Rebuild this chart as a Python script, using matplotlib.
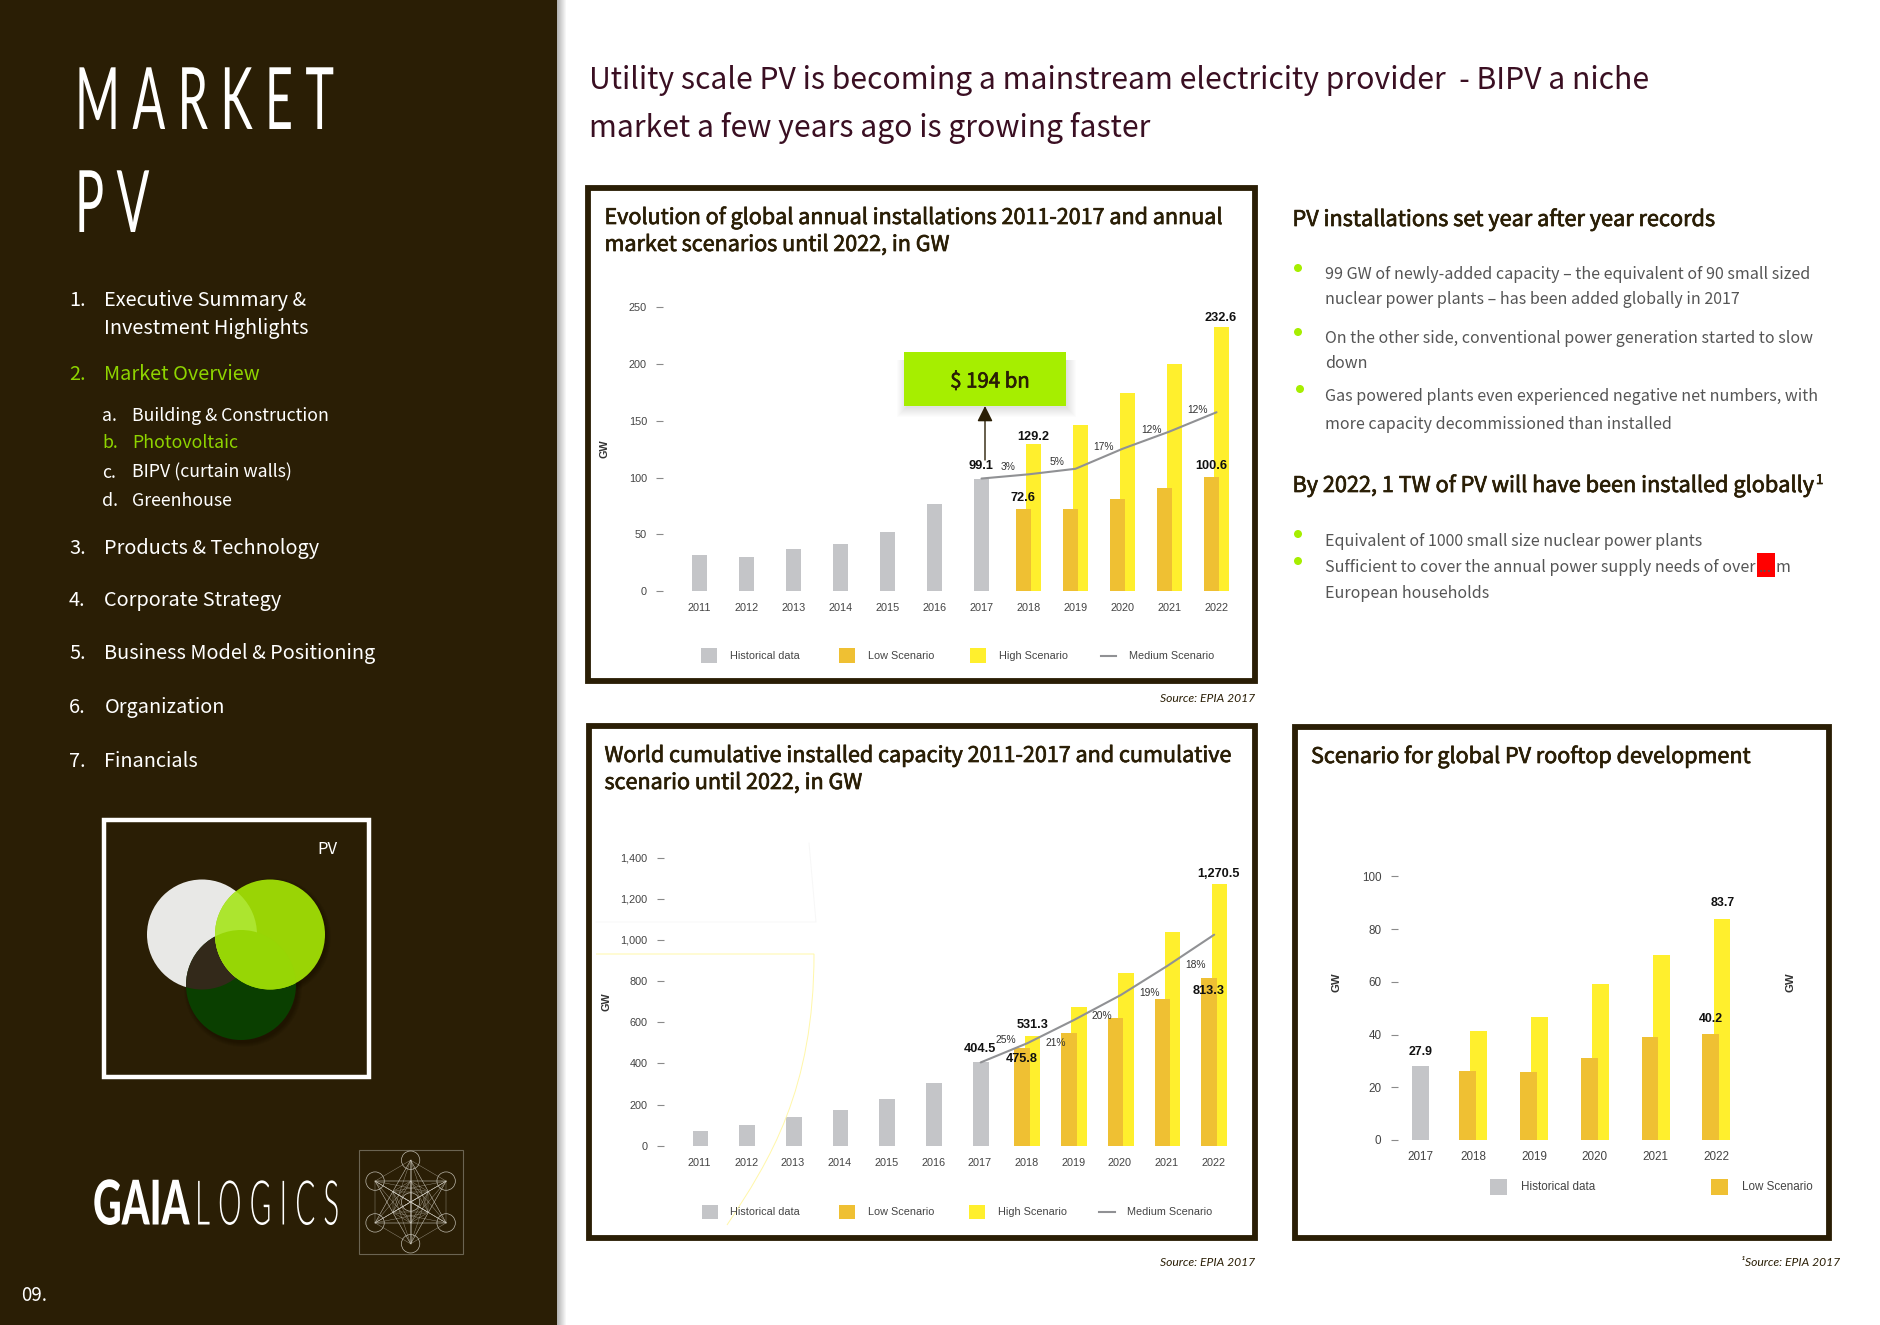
# -*- coding: utf8 -*-
import numpy as np
import matplotlib
matplotlib.use("Agg")
import matplotlib.pyplot as plt
import matplotlib.patheffects as pe
from matplotlib.patches import Rectangle, Circle, PathPatch
from matplotlib.path import Path
from matplotlib.transforms import Affine2D

W, H = 1881, 1325
DARK = "#2a1e05"
GREEN = "#8ed400"
BODY = "#555555"
GREY = "#c4c5c8"
ORANGE = "#efc033"
YELLOW = "#ffef2d"
SRC = "Noto Sans CJK SC"
ARIAL = "Liberation Sans"
LOGO = "Lato"

# annual installations, GW
years = ["2011", "2012", "2013", "2014", "2015", "2016", "2017", "2018", "2019", "2020", "2021", "2022"]
annual_hist = [31.9, 30.0, 37.3, 41.6, 51.9, 76.8, 99.1]
annual_low = [72.6, 72.5, 80.7, 91.0, 100.6]
annual_high = [129.2, 146.0, 174.2, 200.0, 232.6]
annual_mid = [99.1, 102.8, 107.7, 125.3, 140.5, 157.5]

# cumulative capacity, GW
cum_hist = [71, 100.6, 137, 175, 227, 307, 404.5]
cum_low = [475.8, 546, 621, 715, 813.3]
cum_high = [531.3, 673, 841, 1037, 1270.5]
cum_mid = [404.5, 498, 611, 732, 874, 1025]

# rooftop, GW
roof_years = ["2017", "2018", "2019", "2020", "2021", "2022"]
roof_pos = [0.135, 1, 2, 3, 4, 5]
roof_hist = [27.9]
roof_low = [26.3, 25.7, 31.0, 39.1, 40.2]
roof_high = [41.4, 46.7, 59.3, 70.2, 83.7]

# label text, x in year slots, y in GW
annual_bold = [("232.6", 11.09, 240.5), ("129.2", 7.11, 135.6), ("99.1", 5.98, 109.8), ("72.6", 6.885, 81.6), ("100.6", 10.88, 109.8)]
annual_pct = [("3%", 6.56, 109.2), ("5%", 7.6, 113.5), ("17%", 8.6, 126.8), ("12%", 9.61, 142.3), ("12%", 10.6, 159.9)]
cum_bold = [("1,270.5", 11.09, 1322), ("531.3", 7.11, 588), ("404.5", 5.99, 470), ("475.8", 6.88, 420), ("813.3", 10.87, 752)]
cum_pct = [("25%", 6.54, 512), ("21%", 7.6, 501), ("20%", 8.6, 631), ("19%", 9.61, 742), ("18%", 10.61, 880)]
roof_bold = [("83.7", 5.1, 89.9), ("40.2", 4.915, 45.9), ("27.9", 0.135, 33.4)]

menu_main = [("1.", "Executive Summary &", 306, False), ("", "Investment Highlights", 334, False), ("2.", "Market Overview", 380, True),
             ("3.", "Products & Technology", 554, False), ("4.", "Corporate Strategy", 606, False),
             ("5.", "Business Model & Positioning", 659, False), ("6.", "Organization", 713, False), ("7.", "Financials", 767, False)]
menu_sub = [("a.", "Building & Construction", 421, False), ("b.", "Photovoltaic", 448.5, True),
            ("c.", "BIPV (curtain walls)", 477.5, False), ("d.", "Greenhouse", 506, False)]

bullets = [(1298, 268), (1298, 332), (1300, 389), (1298, 534), (1298, 561)]
body_lines = [("99 GW of newly-added capacity \u2013 the equivalent of 90 small sized", 279),
              ("nuclear power plants \u2013 has been added globally in 2017", 304),
              ("On the other side, conventional power generation started to slow", 343),
              ("down", 368.5),
              ("Gas powered plants even experienced negative net numbers, with", 401),
              ("more capacity decommissioned than installed", 429),
              ("Equivalent of 1000 small size nuclear power plants", 546),
              ("Sufficient to cover the annual power supply needs of over", 572.5),
              ("European households", 597.5)]

fig = plt.figure(figsize=(W / 100, H / 100), dpi=100, facecolor="white")
page = fig.add_axes([0, 0, 1, 1], zorder=10)
page.set_xlim(0, W)
page.set_ylim(H, 0)
page.axis("off")
page.patch.set_visible(False)


class Squeeze(pe.AbstractPathEffect):
  # the slide uses a condensed face, none is installed, so scale about the text origin
  def __init__(self, sx, sy=1.0):
    super().__init__()
    self.sx, self.sy = sx, sy

  def draw_path(self, renderer, gc, tpath, affine, rgbFace=None):
    m = affine.get_matrix()
    x0, y0 = m[0, 2], m[1, 2]
    a = affine + Affine2D().translate(-x0, -y0).scale(self.sx, self.sy).translate(x0, y0)
    renderer.draw_path(gc, tpath, a, rgbFace)


def txt(x, y, s, size, color=DARK, family=SRC, weight="normal", semi=False, **kw):
  t = page.text(x, y, s, fontsize=size, color=color, family=family, fontweight=weight, **kw)
  if semi:
    t.set_path_effects([pe.withStroke(linewidth=0.5, foreground=color)])
  return t


def box(x0, y0, x1, y1, **kw):
  r = Rectangle((x0, y0), x1 - x0, y1 - y0, **kw)
  page.add_patch(r)
  return r


def chart_axes(left, right, top, bottom, x0, xstep, per_px):
  ax = fig.add_axes([left / W, 1 - bottom / H, (right - left) / W, (bottom - top) / H], zorder=5)
  ax.set_xlim((left - x0) / xstep, (right - x0) / xstep)
  ax.set_ylim(0, (bottom - top) * per_px)
  ax.patch.set_visible(False)
  for s in ax.spines.values():
    s.set_visible(False)
  return ax


def finish_axes(ax, xpos, xlabels, yticks, ylabels, size, pad):
  ax.set_xticks(xpos)
  ax.set_xticklabels(xlabels, fontsize=size, color="#444444", family=ARIAL)
  ax.set_yticks(yticks)
  ax.set_yticklabels(ylabels, fontsize=size, color="#444444", family=ARIAL)
  ax.tick_params(axis="x", length=0, pad=pad)
  ax.tick_params(axis="y", length=5.4, width=0.8, color="#8a8a8a", pad=6.5)


def legend_swatch(x0, x1, y0, y1, color):
  box(x0, y0, x1, y1, fc=color, ec="none")


def legend_text(x, y, s, size=7.85):
  txt(x, y, s, size, color="#444444", family=ARIAL, va="center")


def scenario_chart(ax, hist_x, hist, low_x, low, high, mid_x, mid, bw, off):
  ax.bar(hist_x, hist, bw, color=GREY)
  ax.bar(np.array(low_x) + off, high, bw, color=YELLOW)
  ax.bar(np.array(low_x) - off, low, bw, color=ORANGE)
  if mid is not None:
    ax.plot(mid_x, mid, color="#909194", lw=1.5, solid_capstyle="round")


def point_labels(ax, bold, pct, size_b=9.2, size_p=7.4):
  for s, x, y in bold:
    ax.text(x, y, s, fontsize=size_b, fontweight="bold", family=ARIAL, color="#111111", ha="center", va="center", zorder=6)
  for s, x, y in pct:
    ax.text(x, y, s, fontsize=size_p, family=ARIAL, color="#333333", ha="center", va="center", zorder=6)


# sidebar and its shadow
box(0, 0, 557, H, fc=DARK, ec="none")
shadow = np.linspace(0.55, 0.0, 10)
for i, a in enumerate(shadow):
  box(557 + i, 0, 558 + i, H, fc="#777777", ec="none", alpha=a)

t = txt(75, 129, "M A R K E T", 62, color="white", family=LOGO)
t.set_path_effects([Squeeze(0.563)])
t = txt(75, 232, "P V", 62, color="white", family=LOGO)
t.set_path_effects([Squeeze(0.563)])

for num, label, y, on in menu_main:
  c = GREEN if on else "white"
  txt(69, y, num, 14.35, color=c)
  txt(104.5, y, label, 14.35, color=c)
for num, label, y, on in menu_sub:
  c = GREEN if on else "white"
  txt(102, y, num, 12.8, color=c)
  txt(132.4, y, label, 12.8, color=c)

# venn logo
box(103.5, 819.5, 369, 1077, fc="none", ec="white", lw=3.2)
txt(317, 854, "PV", 12, color="white")
for cx, cy in [(241, 985), (270, 934)]:
  for k in range(5):
    page.add_patch(Circle((cx + 2, cy + 3), 55 + k, fc="black", ec="none", alpha=0.05))
c_white = Circle((202, 934.5), 55, fc="#e8e8e6", ec="none")
page.add_patch(c_white)
c_dark = Circle((241, 985), 55, fc="#0a3f00", ec="none")
page.add_patch(c_dark)
both = Circle((241, 985), 55, fc="#33291a", ec="none")
page.add_patch(both)
both.set_clip_path(c_white)
c_green = Circle((270, 934.5), 55, fc="#9ad405", ec="none")
page.add_patch(c_green)
light = Circle((202, 934.5), 55, fc="#ace52f", ec="none")
page.add_patch(light)
light.set_clip_path(c_green)
lower = Circle((241, 985), 55, fc="#97d605", ec="none")
page.add_patch(lower)
lower.set_clip_path(c_green)

# brand
t = txt(93, 1224.5, "GAIA", 24, color="white", family=LOGO, weight=900)
t.set_path_effects([Squeeze(1.19, 1.85)])
t = txt(195, 1224.5, "L O G I C S", 24, color="white", family=LOGO, weight=300)
t.set_path_effects([Squeeze(0.89, 1.85)])
box(358.6, 1150, 462.7, 1253.6, fc="none", ec="#6b6452", lw=0.8)
mx, my = 410.6, 1202
nodes = [(mx, my)]
for rad in [19, 38]:
  for ang in np.arange(90, 450, 60):
    nodes.append((mx + rad * np.cos(np.radians(ang)) * 1.08, my - rad * np.sin(np.radians(ang)) * 1.1))
for i, a in enumerate(nodes):
  for b in nodes[i + 1:]:
    page.plot([a[0], b[0]], [a[1], b[1]], color="#cfcbc0", lw=0.3, alpha=0.7)
for n in nodes[7:]:
  page.add_patch(Circle(n, 9.2, fc="none", ec="#bdb9ad", lw=0.5))
page.add_patch(Circle((mx, my), 9.2, fc="none", ec="#bdb9ad", lw=0.5))
txt(21, 1301, "09.", 13.5, color="white")

# header
txt(589, 89, "Utility scale PV is becoming a mainstream electricity provider  - BIPV a niche", 21.7, color="#3a0f22")
txt(589, 137, "market a few years ago is growing faster", 21.7, color="#3a0f22")

# right column
txt(1292.5, 226, "PV installations set year after year records", 15.6, semi=True)
txt(1292.5, 492, "By 2022, 1 TW of PV will have been installed globally", 15.6, semi=True)
txt(1816, 484, "1", 9.5, semi=True)
for x, y in bullets:
  page.add_patch(Circle((x, y), 4, fc="#a6ee00", ec="none"))
for s, y in body_lines:
  txt(1325, y, s, 11.55, color=BODY)
box(1757, 553, 1775, 577, fc="#ff0000", ec="none")
txt(1759, 572.5, "...", 11.55, color=BODY)
txt(1775.6, 572.5, "m", 11.55, color=BODY)

# frames
for x0, y0, x1, y1 in [(588, 188, 1255, 681), (589, 726, 1255, 1238), (1295, 727, 1829, 1238)]:
  box(x0, y0, x1, y1, fc="none", ec=DARK, lw=4.2)

# chart 1
txt(604.5, 224, "Evolution of global annual installations 2011-2017 and annual", 15.5, semi=True)
txt(604.5, 251, "market scenarios until 2022, in GW", 15.5, semi=True)
ax1 = chart_axes(663.5, 1250, 300, 591, 699.5, 47.0, 250 / 283.7)
idx = np.arange(12)
scenario_chart(ax1, idx[:7], annual_hist, idx[7:], annual_low, annual_high, idx[6:], annual_mid, 0.333, 0.11)
point_labels(ax1, annual_bold, annual_pct)
finish_axes(ax1, idx, years, [0, 50, 100, 150, 200, 250], ["0", "50", "100", "150", "200", "250"], 7.85, 8.8)
txt(604.5, 449, "GW", 7.8, color="#333333", family=ARIAL, weight="bold", rotation=90, ha="center", va="center")
for s, x0, x1, c in [("Historical data", 701, 729.5, GREY), ("Low Scenario", 839, 868, ORANGE), ("High Scenario", 970, 999, YELLOW)]:
  legend_swatch(x0, x0 + 16, 648, 663, c)
  legend_text(x1, 656, s)
page.plot([1100.5, 1115.7], [656, 656], color="#909194", lw=1.5)
legend_text(1128.7, 656, "Medium Scenario")
for k in range(10):
  box(906 - k, 360, 1066 + k + 1, 406 + k + 2, fc="black", ec="none", alpha=0.012, zorder=3)
box(904, 352, 1066, 406, fc="#a6ee00", ec="none", zorder=4)
txt(990, 382, "$ 194 bn", 14.7, semi=True, ha="center", va="center", zorder=5)
page.annotate("", xy=(985, 406), xytext=(985, 460), zorder=5,
              arrowprops=dict(arrowstyle="-|>,head_width=0.47,head_length=0.94", color=DARK, lw=1.0, shrinkA=0, shrinkB=0))
txt(1255.5, 702, "Source: EPIA 2017", 8.75, family="Lato", style="italic", ha="right")

# chart 2
txt(604.5, 762, "World cumulative installed capacity 2011-2017 and cumulative", 15.5, semi=True)
txt(604.5, 789, "scenario until 2022, in GW", 15.5, semi=True)
ax2 = chart_axes(664, 1250, 840, 1145.7, 700.5, 46.7, 1400 / 288.2)
scenario_chart(ax2, idx[:7], cum_hist, idx[7:], cum_low, cum_high, idx[6:], cum_mid, 0.335, 0.11)
point_labels(ax2, cum_bold, cum_pct)
finish_axes(ax2, idx - 0.02, years, [0, 200, 400, 600, 800, 1000, 1200, 1400],
            ["0", "200", "400", "600", "800", "1,000", "1,200", "1,400"], 7.85, 8.6)
txt(607, 1002, "GW", 7.8, color="#333333", family=ARIAL, weight="bold", rotation=90, ha="center", va="center")
for s, x0, x1, c in [("Historical data", 702, 730.4, GREY), ("Low Scenario", 839, 868, ORANGE), ("High Scenario", 969, 998, YELLOW)]:
  legend_swatch(x0, x0 + 16, 1204.6, 1219, c)
  legend_text(x1, 1212, s)
page.plot([1099, 1115], [1212, 1212], color="#909194", lw=1.5)
legend_text(1127, 1212, "Medium Scenario")
# leftover guide curves from the source slide
faint = Path([(596, 954), (814, 954), (814, 1090), (770, 1160), (727, 1225)],
             [Path.MOVETO, Path.LINETO, Path.CURVE4, Path.CURVE4, Path.CURVE4])
page.add_patch(PathPatch(faint, fc="none", ec="#fff7a8", lw=0.7))
page.plot([596, 816, 809], [922, 922, 843], color="#f7f7f7", lw=0.7)
txt(1255.5, 1266, "Source: EPIA 2017", 8.75, family="Lato", style="italic", ha="right")

# chart 3
txt(1311, 763, "Scenario for global PV rooftop development", 15.5, semi=True)
ax3 = chart_axes(1398, 1790, 870, 1140, 1412.15, 60.85, 100 / 263.6)
rp = np.array(roof_pos)
scenario_chart(ax3, rp[:1], roof_hist, rp[1:], roof_low, roof_high, None, None, 0.277, 0.091)
point_labels(ax3, roof_bold, [], size_b=8.9)
finish_axes(ax3, rp, roof_years, [0, 20, 40, 60, 80, 100], ["0", "20", "40", "60", "80", "100"], 8.4, 8)
for x in [1336, 1790]:
  txt(x, 982.5, "GW", 8.2, color="#333333", family=ARIAL, weight="bold", rotation=90, ha="center", va="center")
for s, x0, x1, c in [("Historical data", 1490, 1520.7, GREY), ("Low Scenario", 1711, 1742, ORANGE)]:
  legend_swatch(x0, x0 + 16.8, 1178.5, 1194.6, c)
  legend_text(x1, 1187, s, 8.4)
txt(1741, 1266, "\u00b9Source: EPIA 2017", 8.75, family="Lato", style="italic")

fig.savefig("out.png", dpi=100)
